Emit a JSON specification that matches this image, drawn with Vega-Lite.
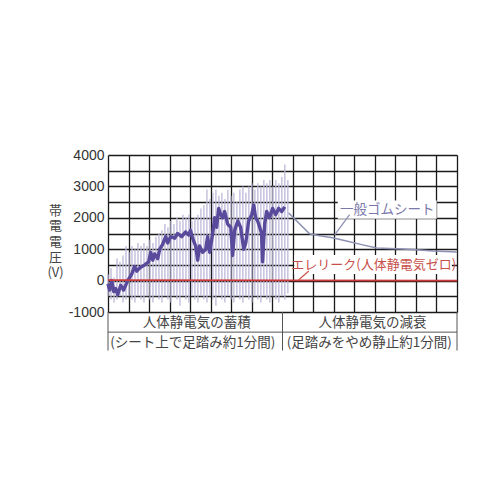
{
  "$schema": "https://vega.github.io/schema/vega-lite/v6.json",
  "width": 349,
  "height": 157,
  "autosize": "none",
  "padding": {"left": 108, "top": 155, "right": 43, "bottom": 188},
  "background": "white",
  "config": {"view": {"stroke": null}},
  "datasets": {
    "spikes": [
      {"x": 0, "y": -500, "y2": 200}, {"x": 1.46, "y": -600, "y2": 400}, {"x": 2.92, "y": -700, "y2": 100},
      {"x": 4.38, "y": -600, "y2": 700}, {"x": 5.84, "y": -500, "y2": 600}, {"x": 7.3, "y": -700, "y2": 800},
      {"x": 8.76, "y": -600, "y2": 1100}, {"x": 10.22, "y": -500, "y2": 900}, {"x": 11.68, "y": -600, "y2": 1100},
      {"x": 13.14, "y": -700, "y2": 1000}, {"x": 14.6, "y": -500, "y2": 1200}, {"x": 16.06, "y": -600, "y2": 1100},
      {"x": 17.52, "y": -700, "y2": 1200}, {"x": 18.98, "y": -500, "y2": 1100}, {"x": 20.44, "y": -600, "y2": 1300},
      {"x": 21.9, "y": -700, "y2": 1200}, {"x": 23.36, "y": -500, "y2": 1400}, {"x": 24.82, "y": -600, "y2": 1500},
      {"x": 26.28, "y": -700, "y2": 1600}, {"x": 27.74, "y": -500, "y2": 1800}, {"x": 29.2, "y": -600, "y2": 1700},
      {"x": 30.66, "y": -700, "y2": 1900}, {"x": 32.12, "y": -500, "y2": 1800}, {"x": 33.58, "y": -600, "y2": 2000},
      {"x": 35.04, "y": -800, "y2": 1900}, {"x": 36.5, "y": -500, "y2": 2100}, {"x": 37.96, "y": -600, "y2": 2000},
      {"x": 39.42, "y": -700, "y2": 2100}, {"x": 40.88, "y": -500, "y2": 1900}, {"x": 42.34, "y": -600, "y2": 2000},
      {"x": 43.8, "y": -700, "y2": 2100}, {"x": 45.26, "y": -500, "y2": 2300}, {"x": 46.72, "y": -600, "y2": 2400},
      {"x": 48.18, "y": -700, "y2": 2900}, {"x": 49.64, "y": -500, "y2": 2600}, {"x": 51.1, "y": -600, "y2": 2800},
      {"x": 52.56, "y": -800, "y2": 2900}, {"x": 54.02, "y": -500, "y2": 2700}, {"x": 55.48, "y": -600, "y2": 2800},
      {"x": 56.94, "y": -700, "y2": 2600}, {"x": 58.4, "y": -500, "y2": 2900}, {"x": 59.86, "y": -600, "y2": 2700},
      {"x": 61.32, "y": -700, "y2": 2800}, {"x": 62.78, "y": -500, "y2": 2500}, {"x": 64.24, "y": -600, "y2": 2900},
      {"x": 65.7, "y": -700, "y2": 3000}, {"x": 67.16, "y": -500, "y2": 2800}, {"x": 68.62, "y": -600, "y2": 3000},
      {"x": 70.08, "y": -700, "y2": 3100}, {"x": 71.54, "y": -500, "y2": 2900}, {"x": 73.0, "y": -600, "y2": 3100},
      {"x": 74.46, "y": -700, "y2": 3000}, {"x": 75.92, "y": -500, "y2": 3200}, {"x": 77.38, "y": -600, "y2": 3100},
      {"x": 78.84, "y": -700, "y2": 3200}, {"x": 80.3, "y": -500, "y2": 3000}, {"x": 81.76, "y": -600, "y2": 3200},
      {"x": 83.22, "y": -700, "y2": 3100}, {"x": 84.68, "y": -500, "y2": 3300}, {"x": 86.14, "y": -600, "y2": 3700},
      {"x": 87.6, "y": -400, "y2": 3200}
    ],
    "dark": [
      {"x": 0, "y": -100}, {"x": 0.8, "y": -300}, {"x": 1.8, "y": 0}, {"x": 2.8, "y": -350}, {"x": 3.7, "y": -250},
      {"x": 4.7, "y": -450}, {"x": 6.2, "y": -150}, {"x": 7.6, "y": -300}, {"x": 9.6, "y": 0}, {"x": 11.5, "y": 200},
      {"x": 13.0, "y": 450}, {"x": 14.0, "y": 300}, {"x": 15.4, "y": 400}, {"x": 17.9, "y": 500}, {"x": 19.8, "y": 600},
      {"x": 20.8, "y": 900}, {"x": 21.8, "y": 650}, {"x": 22.7, "y": 850}, {"x": 24.2, "y": 700}, {"x": 25.2, "y": 1000},
      {"x": 26.6, "y": 1150}, {"x": 28.1, "y": 1400}, {"x": 29.1, "y": 1200}, {"x": 30.5, "y": 1400}, {"x": 32.5, "y": 1350},
      {"x": 33.9, "y": 1500}, {"x": 35.9, "y": 1400}, {"x": 37.8, "y": 1550}, {"x": 39.3, "y": 1450}, {"x": 40.2, "y": 1600},
      {"x": 41.2, "y": 1350}, {"x": 42.7, "y": 1100}, {"x": 43.7, "y": 650}, {"x": 44.6, "y": 1100}, {"x": 46.1, "y": 900},
      {"x": 47.6, "y": 1000}, {"x": 48.5, "y": 1400}, {"x": 49.5, "y": 900}, {"x": 51.0, "y": 1500}, {"x": 52.0, "y": 2000},
      {"x": 52.9, "y": 1700}, {"x": 53.9, "y": 2300}, {"x": 54.9, "y": 2100}, {"x": 55.9, "y": 2000}, {"x": 56.8, "y": 2200},
      {"x": 58.3, "y": 1800}, {"x": 59.8, "y": 1700}, {"x": 60.7, "y": 800}, {"x": 61.7, "y": 1600}, {"x": 63.2, "y": 1900},
      {"x": 64.6, "y": 1700}, {"x": 66.1, "y": 1000}, {"x": 67.1, "y": 1200}, {"x": 68.5, "y": 1900}, {"x": 70.0, "y": 2100},
      {"x": 71.0, "y": 2400}, {"x": 71.9, "y": 2000}, {"x": 72.9, "y": 1900}, {"x": 73.9, "y": 1700}, {"x": 74.8, "y": 1500},
      {"x": 75.3, "y": 600}, {"x": 76.3, "y": 1800}, {"x": 77.3, "y": 2200}, {"x": 78.7, "y": 2000}, {"x": 80.2, "y": 2300},
      {"x": 81.7, "y": 2100}, {"x": 83.1, "y": 2300}, {"x": 84.6, "y": 2200}, {"x": 86.1, "y": 2350}
    ],
    "decay": [
      {"x": 88, "y": 2150}, {"x": 98.2, "y": 1490}, {"x": 103.1, "y": 1426}, {"x": 109.4, "y": 1362},
      {"x": 117.7, "y": 1234}, {"x": 124.1, "y": 1138}, {"x": 130.9, "y": 1042}, {"x": 143.6, "y": 1010},
      {"x": 151.9, "y": 978}, {"x": 158.2, "y": 946}, {"x": 169.9, "y": 913}
    ],
    "eleleak": [{"x": 0, "y": 15}, {"x": 170, "y": 0}],
    "bgboxes": [
      {"x": 111.9, "x2": 160.1, "y": 1971, "y2": 2548},
      {"x": 90.7, "x2": 167.5, "y": 208, "y2": 817}
    ],
    "pointerGray": [{"x": 117.7, "y": 2099, "x2": 110.4, "y2": 1458}],
    "pointerRed": [{"x": 97.8, "y": 304, "x2": 92.8, "y2": 16}],
    "labelGray": [{"x": 136.0, "y": 2259, "label": "一般ゴムシート"}],
    "labelRed": [{"x": 129.4, "y": 497, "label": "エレリーク(人体静電気ゼロ)"}],
    "bottomText": [
      {"x": 43.2, "y": -1362, "label": "人体静電気の蓄積"},
      {"x": 128.9, "y": -1362, "label": "人体静電気の減衰"},
      {"x": 41.3, "y": -2003, "label": "(シート上で足踏み約1分間)"},
      {"x": 127.3, "y": -2003, "label": "(足踏みをやめ静止約1分間)"}
    ],
    "vbrackets": [
      {"x": 0, "y": -1000, "y2": -2228},
      {"x": 85.0, "y": -1000, "y2": -2228},
      {"x": 170, "y": -1000, "y2": -2228}
    ],
    "hbrackets": [{"x": 0, "x2": 170, "y": -1641}]
  },
  "encoding": {
    "x": {
      "field": "x", "type": "quantitative",
      "scale": {"domain": [0, 170], "nice": false, "zero": false},
      "axis": {
        "values": [0,10,20,30,40,50,60,70,80,90,100,110,120,130,140,150,160,170],
        "labels": false, "ticks": false, "domain": false, "title": null,
        "grid": true, "gridColor": "#1a1a1a", "gridWidth": 1.3, "gridOpacity": 1
      }
    },
    "y": {
      "field": "y", "type": "quantitative",
      "scale": {"domain": [-1000, 4000], "nice": false, "zero": false},
      "axis": {
        "values": [-1000,-500,0,500,1000,1500,2000,2500,3000,3500,4000],
        "labelExpr": "datum.value % 1000 == 0 ? '' + datum.value : ''",
        "ticks": false, "domain": false, "labelPadding": 4,
        "labelFont": "Liberation Sans", "labelFontSize": 14, "labelColor": "#333333",
        "grid": true, "gridColor": "#1a1a1a", "gridWidth": 1.3, "gridOpacity": 1,
        "title": ["帯", "電", "電", "圧", "(V)"],
        "titleAngle": 0, "titleAlign": "center", "titleBaseline": "middle",
        "titleX": -53, "titleY": 55, "titleLineHeight": 15.7,
        "titleFont": "Noto Sans CJK JP", "titleFontSize": 13, "titleFontWeight": "normal",
        "titleColor": "#444444"
      }
    }
  },
  "layer": [
    {
      "data": {"name": "spikes"},
      "mark": {"type": "rule", "color": "#bcb8d8", "strokeWidth": 1.3},
      "encoding": {"y2": {"field": "y2"}}
    },
    {
      "data": {"name": "dark"},
      "mark": {"type": "line", "color": "#5a4a9c", "strokeWidth": 3.4, "strokeJoin": "round"},
      "encoding": {}
    },
    {
      "data": {"name": "eleleak"},
      "mark": {"type": "line", "color": "#cc3a3a", "strokeWidth": 1.8},
      "encoding": {}
    },
    {
      "data": {"name": "decay"},
      "mark": {"type": "line", "color": "#8d91b3", "strokeWidth": 1.5},
      "encoding": {}
    },
    {
      "data": {"name": "bgboxes"},
      "mark": {"type": "rect", "color": "white"},
      "encoding": {"x2": {"field": "x2"}, "y2": {"field": "y2"}}
    },
    {
      "data": {"name": "pointerGray"},
      "mark": {"type": "rule", "color": "#8d91b3", "strokeWidth": 1.3},
      "encoding": {"x2": {"field": "x2"}, "y2": {"field": "y2"}}
    },
    {
      "data": {"name": "pointerRed"},
      "mark": {"type": "rule", "color": "#cc5a50", "strokeWidth": 1.3},
      "encoding": {"x2": {"field": "x2"}, "y2": {"field": "y2"}}
    },
    {
      "data": {"name": "labelGray"},
      "mark": {"type": "text", "font": "Noto Sans CJK JP", "fontSize": 13.5, "color": "#7a78aa", "align": "center", "baseline": "middle"},
      "encoding": {"text": {"field": "label"}}
    },
    {
      "data": {"name": "labelRed"},
      "mark": {"type": "text", "font": "Noto Sans CJK JP", "fontSize": 13, "color": "#c8504a", "align": "center", "baseline": "middle"},
      "encoding": {"text": {"field": "label"}}
    },
    {
      "data": {"name": "bottomText"},
      "mark": {"type": "text", "font": "Noto Sans CJK JP", "fontSize": 13.5, "color": "#444444", "align": "center", "baseline": "middle"},
      "encoding": {"text": {"field": "label"}}
    },
    {
      "data": {"name": "vbrackets"},
      "mark": {"type": "rule", "color": "#555555", "strokeWidth": 1},
      "encoding": {"y2": {"field": "y2"}}
    },
    {
      "data": {"name": "hbrackets"},
      "mark": {"type": "rule", "color": "#555555", "strokeWidth": 1},
      "encoding": {"x2": {"field": "x2"}}
    }
  ]
}
